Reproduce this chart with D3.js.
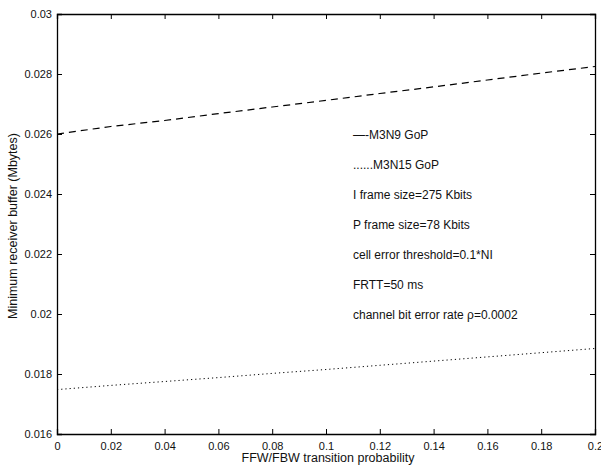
<!DOCTYPE html>
<html>
<head>
<meta charset="utf-8">
<script src="https://cdn.jsdelivr.net/npm/d3@7"></script>
<style>
  body { margin: 0; background: #fff; }
  text { font-family: "Liberation Sans", Arial, sans-serif; fill: #111; }
</style>
</head>
<body>
<div id="chart"></div>
<script>
// values
let xValues = [0, 0.02, 0.04, 0.06, 0.08, 0.1, 0.12, 0.14, 0.16, 0.18, 0.2];
let m3n9 = [0.0260, 0.02625, 0.02645, 0.02668, 0.0269, 0.02712, 0.02735, 0.02757, 0.0278, 0.02803, 0.02825];
let m3n15 = [0.01748, 0.01762, 0.01775, 0.01788, 0.01802, 0.01815, 0.01829, 0.01843, 0.01857, 0.01871, 0.01885];
let xTicks = [0, 0.02, 0.04, 0.06, 0.08, 0.1, 0.12, 0.14, 0.16, 0.18, 0.2];
let yTicks = [0.016, 0.018, 0.02, 0.022, 0.024, 0.026, 0.028, 0.03];
let notes = ["\u2014-M3N9 GoP", "......M3N15 GoP", "I frame size=275 Kbits", "P frame size=78 Kbits",
             "cell error threshold=0.1*NI", "FRTT=50 ms", "channel bit error rate \u03c1=0.0002"];

let drawChart = function(){
    let margin = {top: 14, right: 6, bottom: 32, left: 57}
      , width = 601 - margin.left - margin.right
      , height = 466 - margin.top - margin.bottom;

    let xScale = d3.scaleLinear().domain([0, 0.2]).range([0, width]);
    let yScale = d3.scaleLinear().domain([0.016, 0.03]).range([height, 0]);

    let svg = d3.select('#chart').append("svg")
        .attr("width", 601).attr("height", 466)
      .append("g")
        .attr("transform", "translate(" + margin.left + "," + margin.top + ")");

    let fmt = d => String(+d.toFixed(3));

    // MATLAB style box with inward ticks on all sides
    svg.append("g").attr("transform", "translate(0," + height + ")")
        .call(d3.axisBottom(xScale).tickValues(xTicks).tickSize(-5).tickPadding(8).tickFormat(fmt));
    svg.append("g")
        .call(d3.axisTop(xScale).tickValues(xTicks).tickSize(-5).tickFormat(""));
    svg.append("g")
        .call(d3.axisLeft(yScale).tickValues(yTicks).tickSize(-5).tickPadding(5).tickFormat(fmt));
    svg.append("g").attr("transform", "translate(" + width + ",0)")
        .call(d3.axisRight(yScale).tickValues(yTicks).tickSize(-5).tickFormat(""));

    svg.selectAll(".domain").attr("stroke", "#000").attr("stroke-width", 1.3);
    svg.selectAll(".tick line").attr("stroke", "#000");
    svg.selectAll(".tick text").attr("font-size", 11).attr("fill", "#111");

    let line = d3.line()
        .x((d, i) => xScale(xValues[i]))
        .y(d => yScale(d));

    svg.append("path").datum(m3n9)
        .attr("d", line).attr("fill", "none")
        .attr("stroke", "#000").attr("stroke-width", 1.2)
        .attr("stroke-dasharray", "7,5");

    svg.append("path").datum(m3n15)
        .attr("d", line).attr("fill", "none")
        .attr("stroke", "#000").attr("stroke-width", 1)
        .attr("stroke-dasharray", "1.2,3");

    // annotation block
    svg.selectAll(".note").data(notes).enter().append("text")
        .attr("class", "note")
        .attr("x", 296)
        .attr("y", (d, i) => 125 + i * 30)
        .attr("font-size", 12)
        .text(d => d);

    svg.append("text")
        .attr("x", width / 2 + 2).attr("y", height + 28)
        .attr("text-anchor", "middle").attr("font-size", 12.5)
        .text("FFW/FBW transition probability");

    svg.append("text")
        .attr("transform", "translate(-40," + (height / 2 + 2) + ") rotate(-90)")
        .attr("text-anchor", "middle").attr("font-size", 12.5)
        .text("Minimum receiver buffer (Mbytes)");
};

drawChart();
</script>
</body>
</html>
